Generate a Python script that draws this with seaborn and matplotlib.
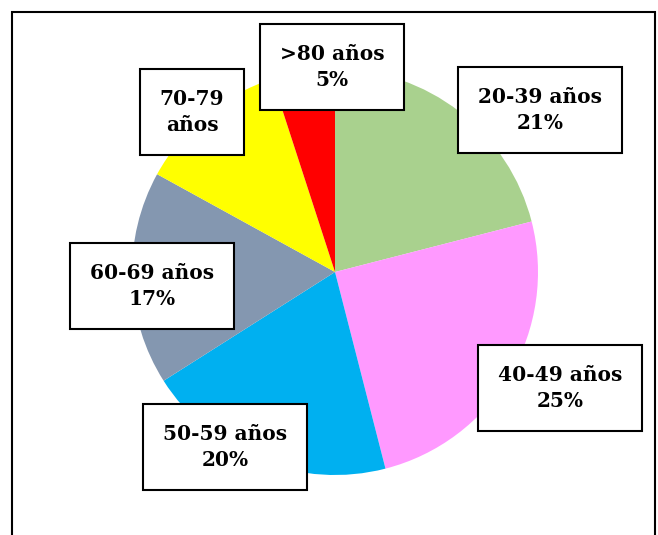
import matplotlib.pyplot as plt
import seaborn as sns
from matplotlib.patches import Rectangle

sns.set_theme(style="white")
plt.rcParams['font.family'] = ['DejaVu Serif']

labels = ["20-39 años", "40-49 años", "50-59 años", "60-69 años", "70-79\naños", ">80 años"]
shares = [21, 25, 20, 17, 12, 5]
colors = ["#A9D18E", "#FF99FF", "#00B0F0", "#8497B0", "#FFFF00", "#FF0000"]
show_pct = [True, True, True, True, False, True]
# label box centres in figure pixels (x, y from top)
label_pos = [(540, 110), (560, 388), (225, 447), (152, 286), (192, 112), (332, 67)]

W, H = 658, 535
fig = plt.figure(figsize=(W / 100, H / 100), dpi=100)
fig.patch.set_facecolor("white")
fig.patches.append(Rectangle((12 / W, -0.1), (655 - 12) / W, (535 - 12) / H + 0.1,
                             transform=fig.transFigure, fill=False, edgecolor="black", lw=1.5))

r = 203
ax = fig.add_axes([(335 - r) / W, (535 - 272 - r) / H, 2 * r / W, 2 * r / H])
ax.pie(shares, colors=colors, startangle=90, counterclock=False,
       wedgeprops=dict(linewidth=0))
ax.set_xlim(-1, 1)
ax.set_ylim(-1, 1)
ax.set_aspect("equal")
ax.set_zorder(0)

for lab, val, pct, (x, y) in zip(labels, shares, show_pct, label_pos):
    txt = f"{lab}\n{val}%" if pct else lab
    fig.text(x / W, 1 - y / H, txt, ha="center", va="center", fontsize=14.5,
             fontweight="bold", linespacing=1.35, color="black", zorder=5,
             bbox=dict(boxstyle="square,pad=1.0", facecolor="white", edgecolor="black", lw=1.5))

fig.savefig("out.png", dpi=100)
